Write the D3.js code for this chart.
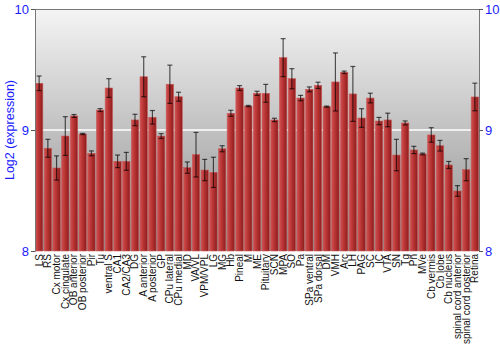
<!DOCTYPE html>
<html>
<head>
<meta charset="utf-8">
<script src="https://cdn.jsdelivr.net/npm/d3@7"></script>
<style>
  body { margin: 0; background: #fff; }
  text { font-family: "Liberation Sans", Arial, sans-serif; }
</style>
</head>
<body>
<svg id="chart" width="500" height="350"></svg>
<script>
// Tissue names along the x axis.
const tissues = ['LS', 'RS', 'Cx motor', 'Cx cingulate', 'OB anterior', 'OB posterior', 'Pir', 'Tu',
  'ventral S', 'CA1', 'CA2/CA3', 'DG', 'A anterior', 'A posterior', 'GP', 'CPu lateral', 'CPu medial',
  'MD', 'VA/VL', 'VPM/VPL', 'LG', 'MG', 'Hb', 'Pineal', 'M', 'ME', 'Pituitary', 'SCN', 'MPA', 'SO',
  'Pa', 'SPa ventral', 'SPa dorsal', 'DM', 'VMH', 'Arc', 'LH', 'PAG', 'SC', 'IC', 'VTA', 'SN', 'Tg',
  'Pn', 'MVe', 'Cb vermis', 'Cb lobe', 'Cb nucleus', 'spinal cord anterior', 'spinal cord posterior', 'Retina'];
// Mean log2 expression.
const means = [9.386, 8.849, 8.686, 8.95, 9.116, 8.967, 8.807, 9.165,
  9.347, 8.741, 8.741, 9.083, 9.44, 9.105, 8.95, 9.378, 9.275,
  8.689, 8.796, 8.669, 8.65, 8.845, 9.138, 9.347, 9.198, 9.303, 9.303, 9.083, 9.598, 9.424,
  9.264, 9.336, 9.369, 9.193, 9.397, 9.477, 9.298, 9.099, 9.264, 9.074, 9.083, 8.793, 9.058,
  8.835, 8.802, 8.959, 8.87, 8.711, 8.496, 8.672, 9.273];
// Error (half length of the whisker).
const errors = [0.06, 0.074, 0.10, 0.16, 0.012, 0.005, 0.02, 0.012,
  0.077, 0.052, 0.074, 0.047, 0.165, 0.056, 0.02, 0.158, 0.037,
  0.047, 0.184, 0.088, 0.125, 0.025, 0.025, 0.02, 0.005, 0.017, 0.074, 0.014, 0.157, 0.083,
  0.022, 0.02, 0.026, 0.005, 0.24, 0.01, 0.227, 0.077, 0.04, 0.03, 0.056, 0.13, 0.017,
  0.03, 0.007, 0.06, 0.044, 0.029, 0.044, 0.091, 0.114];
const yTicks = [8, 9, 10];

const margin = {top: 9, right: 21, bottom: 99, left: 35};
const width = 500 - margin.left - margin.right;
const height = 350 - margin.top - margin.bottom;

const svg = d3.select('#chart');
const defs = svg.append('defs');

const bg = defs.append('linearGradient').attr('id', 'bg').attr('x1', 0).attr('x2', 0).attr('y1', 0).attr('y2', 1);
bg.append('stop').attr('offset', '0%').attr('stop-color', '#f4f4f4');
bg.append('stop').attr('offset', '100%').attr('stop-color', '#8e8e8e');

const barGrad = defs.append('linearGradient').attr('id', 'bar').attr('x1', 0).attr('x2', 1).attr('y1', 0).attr('y2', 0);
barGrad.append('stop').attr('offset', '0%').attr('stop-color', '#d05050');
barGrad.append('stop').attr('offset', '45%').attr('stop-color', '#b83434');
barGrad.append('stop').attr('offset', '100%').attr('stop-color', '#8e1c1c');

const g = svg.append('g').attr('transform', `translate(${margin.left}, ${margin.top})`);

const x = d3.scaleBand().domain(tissues).range([0, width]).paddingInner(0.15).paddingOuter(0.05);
const y = d3.scaleLinear().domain([8, 10]).range([height, 0]);

// Plot background and the grid line at 9.
g.append('rect').attr('width', width).attr('height', height).attr('fill', 'url(#bg)');
g.append('line').attr('x1', 0).attr('x2', width).attr('y1', y(9)).attr('y2', y(9))
  .attr('stroke', '#ffffff').attr('stroke-width', 1.5);
g.append('line').attr('x1', 0).attr('x2', width).attr('y1', 0.5).attr('y2', 0.5)
  .attr('stroke', '#777');

// Bars.
g.selectAll('rect.bar').data(tissues).join('rect')
  .attr('class', 'bar')
  .attr('x', (d) => x(d))
  .attr('width', x.bandwidth())
  .attr('y', (d, i) => y(means[i]))
  .attr('height', (d, i) => height - y(means[i]))
  .attr('fill', 'url(#bar)')
  .attr('stroke', '#c85a5a')
  .attr('stroke-width', 0.6);

// Error bars.
const cap = 2.5;
const eb = g.selectAll('g.err').data(tissues).join('g').attr('class', 'err')
  .attr('stroke', '#000').attr('stroke-opacity', 0.65).attr('stroke-width', 1.2);
eb.append('line')
  .attr('x1', (d) => x(d) + x.bandwidth() / 2).attr('x2', (d) => x(d) + x.bandwidth() / 2)
  .attr('y1', (d, i) => y(means[i] - errors[i])).attr('y2', (d, i) => y(means[i] + errors[i]));
eb.append('line')
  .attr('x1', (d) => x(d) + x.bandwidth() / 2 - cap).attr('x2', (d) => x(d) + x.bandwidth() / 2 + cap)
  .attr('y1', (d, i) => y(means[i] + errors[i])).attr('y2', (d, i) => y(means[i] + errors[i]));
eb.append('line')
  .attr('x1', (d) => x(d) + x.bandwidth() / 2 - cap).attr('x2', (d) => x(d) + x.bandwidth() / 2 + cap)
  .attr('y1', (d, i) => y(means[i] - errors[i])).attr('y2', (d, i) => y(means[i] - errors[i]));

// Axes, left and right.
const leftAxis = g.append('g')
  .call(d3.axisLeft(y).tickValues(yTicks).tickFormat(d3.format('d')).tickSize(4).tickPadding(2));
const rightAxis = g.append('g').attr('transform', `translate(${width}, 0)`)
  .call(d3.axisRight(y).tickValues(yTicks).tickFormat(d3.format('d')).tickSize(4).tickPadding(2));
[leftAxis, rightAxis].forEach((a) => {
  a.select('.domain').attr('stroke', '#777');
  a.selectAll('.tick line').attr('stroke', '#555');
  a.selectAll('.tick text').attr('fill', '#1a1aff').style('font-size', '13px')
    .style('font-family', '"Liberation Sans", Arial, sans-serif');
});

// Category labels.
const xAxis = g.append('g').attr('transform', `translate(0, ${height})`)
  .call(d3.axisBottom(x).tickSize(0).tickPadding(0));
xAxis.select('.domain').remove();
xAxis.selectAll('.tick text')
  .attr('transform', 'rotate(-90)')
  .attr('x', -3).attr('y', 0).attr('dy', '0.35em')
  .style('text-anchor', 'end')
  .style('font-size', '10px')
  .style('font-family', '"Liberation Sans", Arial, sans-serif')
  .attr('fill', '#111');

// Y title.
svg.append('text')
  .attr('transform', `translate(10, ${margin.top + height / 2}) rotate(-90)`)
  .attr('text-anchor', 'middle')
  .attr('dy', '0.35em')
  .attr('fill', '#1a1aff')
  .style('font-size', '12.5px')
  .text('Log2 (expression)');
</script>
</body>
</html>
